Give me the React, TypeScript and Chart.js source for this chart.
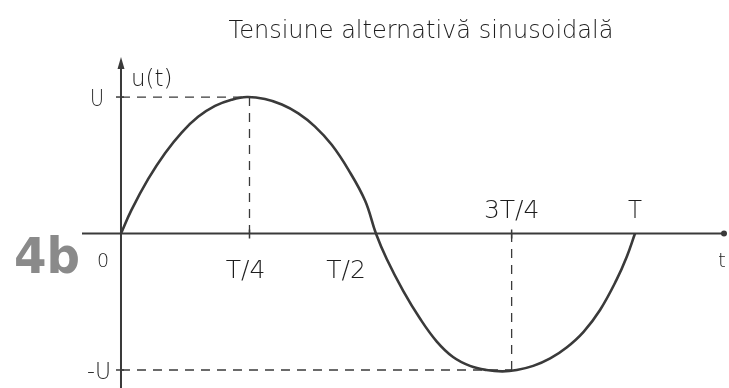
import React, { useEffect, useRef } from "react";
import { Chart, registerables } from "chart.js";

Chart.register(...registerables);

// Curve (t in periods T, u in units of U)
const TIMES = [0, 0.02, 0.053, 0.086, 0.118, 0.15, 0.183, 0.215, 0.245, 0.28, 0.313, 0.345, 0.377, 0.41, 0.442, 0.475, 0.496, 0.517, 0.549, 0.582, 0.614, 0.646, 0.679, 0.711, 0.742, 0.77, 0.802, 0.835, 0.867, 0.9, 0.932, 0.964, 0.984, 1.0];
const VOLTS = [0, 0.17, 0.4, 0.59, 0.74, 0.855, 0.935, 0.98, 1.0, 0.985, 0.945, 0.88, 0.785, 0.65, 0.47, 0.24, 0, -0.187, -0.42, -0.625, -0.79, -0.905, -0.97, -1.0, -1.01, -1.0, -0.97, -0.915, -0.835, -0.72, -0.56, -0.34, -0.17, 0];

// Axis annotations
const X_TICK_VALUES = [0, 0.25, 0.5, 0.76, 1.0];
const X_TICK_LABELS = ["0", "T/4", "T/2", "3T/4", "T"];
const Y_TICK_VALUES = [1, -1];
const Y_TICK_LABELS = ["U", "-U"];
const PEAK_T = 0.25;
const TROUGH_T = 0.76;
const TITLE = "Tensiune alternativă sinusoidală";
const Y_AXIS_LABEL = "u(t)";
const X_AXIS_LABEL = "t";
const FIGURE_TAG = "4b";

const INK = "#3a3a3a";
const TEXT_INK = "#1e1e1e";
const FONT = '"DejaVu Sans", sans-serif';
const LIGHT = "200";

const sketchPlugin = {
  id: "sketch",
  beforeDatasetsDraw(chart: any) {
    const { ctx, scales } = chart;
    const xs = scales.x;
    const ys = scales.y;
    const x0 = xs.getPixelForValue(0);
    const y0 = ys.getPixelForValue(0);
    ctx.save();
    ctx.strokeStyle = INK;
    ctx.fillStyle = INK;
    ctx.lineWidth = 2;
    // y axis
    ctx.beginPath();
    ctx.moveTo(x0, chart.height);
    ctx.lineTo(x0, 64);
    ctx.stroke();
    ctx.beginPath();
    ctx.moveTo(x0, 57);
    ctx.lineTo(x0 - 3.5, 69);
    ctx.lineTo(x0 + 3.5, 69);
    ctx.closePath();
    ctx.fill();
    // x axis
    ctx.beginPath();
    ctx.moveTo(82, y0);
    ctx.lineTo(724, y0);
    ctx.stroke();
    ctx.beginPath();
    ctx.arc(724, y0, 3, 0, Math.PI * 2);
    ctx.fill();
    // small ticks
    ctx.lineWidth = 1.5;
    Y_TICK_VALUES.forEach((v) => {
      const py = ys.getPixelForValue(v);
      ctx.beginPath();
      ctx.moveTo(x0 - 5, py);
      ctx.lineTo(x0 + 3, py);
      ctx.stroke();
    });
    [PEAK_T, TROUGH_T].forEach((v) => {
      const px = xs.getPixelForValue(v);
      ctx.beginPath();
      ctx.moveTo(px, y0 - 4);
      ctx.lineTo(px, y0 + 5);
      ctx.stroke();
    });
    // dashed guides
    ctx.lineWidth = 1.3;
    ctx.setLineDash([9, 7]);
    const pU = ys.getPixelForValue(1);
    const pmU = ys.getPixelForValue(-1);
    const pPeak = xs.getPixelForValue(PEAK_T);
    const pTrough = xs.getPixelForValue(TROUGH_T);
    ctx.beginPath();
    ctx.moveTo(x0, pU);
    ctx.lineTo(pPeak, pU);
    ctx.moveTo(pPeak, pU);
    ctx.lineTo(pPeak, y0);
    ctx.moveTo(x0, pmU);
    ctx.lineTo(pTrough, pmU);
    ctx.moveTo(pTrough, pmU);
    ctx.lineTo(pTrough, y0);
    ctx.stroke();
    ctx.restore();
  },
  afterDatasetsDraw(chart: any) {
    const { ctx, scales } = chart;
    const xs = scales.x;
    const ys = scales.y;
    const x0 = xs.getPixelForValue(0);
    const y0 = ys.getPixelForValue(0);
    ctx.save();
    ctx.fillStyle = TEXT_INK;
    ctx.textAlign = "center";
    ctx.textBaseline = "alphabetic";
    // title
    ctx.font = `${LIGHT} 24px ${FONT}`;
    ctx.fillText(TITLE, 421, 38, 408);
    // y labels
    ctx.font = `${LIGHT} 23px ${FONT}`;
    ctx.fillText(Y_TICK_LABELS[0], 97, ys.getPixelForValue(Y_TICK_VALUES[0]) + 9, 14);
    ctx.fillText(Y_TICK_LABELS[1], 99, ys.getPixelForValue(Y_TICK_VALUES[1]) + 9, 24);
    ctx.textAlign = "left";
    ctx.fillText(Y_AXIS_LABEL, x0 + 10, 86, 50);
    // x labels
    ctx.textAlign = "center";
    const below = [true, true, true, false, false];
    const offsetX = [-18, -4, -32, 0, 0];
    X_TICK_LABELS.forEach((lab, i) => {
      const px = xs.getPixelForValue(X_TICK_VALUES[i]) + offsetX[i];
      const py = below[i] ? y0 + (i === 0 ? 33 : 44) : y0 - 16;
      const w = lab.length === 1 ? 14 : lab.length === 3 ? 44 : 56;
      ctx.font = i === 0 ? `${LIGHT} 19px ${FONT}` : `${LIGHT} 25px ${FONT}`;
      ctx.fillText(lab, px, py, w);
    });
    ctx.font = `${LIGHT} 20px ${FONT}`;
    ctx.fillText(X_AXIS_LABEL, 722, y0 + 33);
    // figure tag
    ctx.fillStyle = "#8a8a8a";
    ctx.font = `bold 50px ${FONT}`;
    ctx.textAlign = "left";
    ctx.fillText(FIGURE_TAG, 14, y0 + 39, 66);
    ctx.restore();
  },
};

export default function App() {
  const ref = useRef<HTMLCanvasElement | null>(null);
  useEffect(() => {
    if (!ref.current) return;
    const chart = new Chart(ref.current, {
      type: "line",
      data: {
        datasets: [
          {
            data: TIMES.map((t, i) => ({ x: t, y: VOLTS[i] })),
            borderColor: INK,
            borderWidth: 2.6,
            pointRadius: 0,
            tension: 0.4,
            fill: false,
          },
        ],
      },
      options: {
        animation: false,
        responsive: false,
        layout: { padding: 0 },
        plugins: { legend: { display: false }, tooltip: { enabled: false }, title: { display: false } },
        scales: {
          x: { type: "linear", display: false, min: -0.2354, max: 1.1829 },
          y: { type: "linear", display: false, min: -1.132, max: 1.711 },
        },
      },
      plugins: [sketchPlugin],
    } as any);
    return () => chart.destroy();
  }, []);
  return (
    <div style={{ position: "fixed", left: 0, top: 0, width: 729, height: 388, background: "#fff" }}>
      <canvas ref={ref} width={729} height={388} style={{ width: 729, height: 388, display: "block" }} />
    </div>
  );
}
